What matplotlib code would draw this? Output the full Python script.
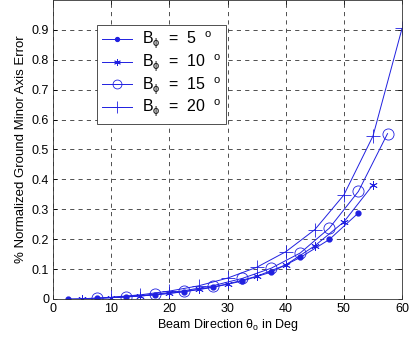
import matplotlib
matplotlib.use("Agg")
import matplotlib.pyplot as plt

plt.rcParams['font.family'] = ['Liberation Sans', 'DejaVu Sans']
plt.rcParams['mathtext.fontset'] = 'custom'
plt.rcParams['mathtext.rm'] = 'Liberation Sans'
plt.rcParams['mathtext.it'] = 'Liberation Sans'

# beam direction (deg) and error values
th5 = [2.5, 7.5, 12.5, 17.5, 22.5, 27.5, 32.5, 37.5, 42.5, 47.5, 52.5]
err5 = [0.0003, 0.0024, 0.0067, 0.0137, 0.024, 0.039, 0.06, 0.09, 0.139, 0.199, 0.288]

th10 = [5, 10, 15, 20, 25, 30, 35, 40, 45, 50, 55]
err10 = [0.001, 0.0044, 0.010, 0.019, 0.032, 0.050, 0.076, 0.114, 0.178, 0.258, 0.382]

th15 = [7.5, 12.5, 17.5, 22.5, 27.5, 32.5, 37.5, 42.5, 47.5, 52.5, 57.5]
err15 = [0.0027, 0.0077, 0.0157, 0.0276, 0.0446, 0.0687, 0.103, 0.154, 0.237, 0.36, 0.553]

th20 = [10, 15, 20, 25, 30, 35, 40, 45, 50, 55, 60]
err20 = [0.006, 0.014, 0.0265, 0.044, 0.070, 0.106, 0.158, 0.232, 0.348, 0.545, 0.905]

labels = [r'B$_\phi$  =  5  $^o$', r'B$_\phi$  =  10  $^o$',
          r'B$_\phi$  =  15  $^o$', r'B$_\phi$  =  20  $^o$']

blue = '#2020e0'
fig = plt.figure(figsize=(4.09, 3.39), dpi=100)
ax = fig.add_axes([0.13, 0.118, 0.853, 0.882])

ax.plot(th5, err5, '-', color=blue, lw=0.7, marker='.', ms=7, label=labels[0])
ax.plot(th10, err10, '-', color=blue, lw=0.7, marker=(6, 2, 0), ms=6, mew=0.6,
        label=labels[1])
ax.plot(th15, err15, '-', color=blue, lw=0.7, marker='o', ms=8, mew=0.6,
        mfc='none', label=labels[2])
ax.plot(th20, err20, '-', color=blue, lw=0.7, marker='+', ms=10, mew=0.6,
        label=labels[3])

ax.set_xlim(0, 60)
ax.set_ylim(0, 1.0)
ax.set_xticks(range(0, 61, 10))
ax.set_yticks([0, 0.1, 0.2, 0.3, 0.4, 0.5, 0.6, 0.7, 0.8, 0.9])
ax.set_yticklabels(['0', '0.1', '0.2', '0.3', '0.4', '0.5', '0.6', '0.7', '0.8', '0.9'])
ax.tick_params(direction='in', top=True, right=True, labelsize=9, length=3,
               width=0.6, pad=3)
ax.grid(True, ls=(0, (5, 5)), color='#333333', lw=0.6)
for s in ax.spines.values():
    s.set_linewidth(0.6)
    s.set_color('#333333')

ax.set_xlabel(r'Beam Direction $\theta_o$ in Deg', fontsize=9, labelpad=1)
ax.set_ylabel('% Normalized Ground Minor Axis Error', fontsize=9.5, labelpad=3)

leg = ax.legend(loc='upper left', bbox_to_anchor=(0.125, 0.916), fontsize=11.5,
                fancybox=False, edgecolor='#333333', framealpha=1,
                handlelength=1.9, handletextpad=0.6, borderpad=0.3,
                borderaxespad=0, labelspacing=0.1, markerscale=0.8)
leg.get_frame().set_linewidth(0.6)

fig.savefig('out.png', dpi=100)
